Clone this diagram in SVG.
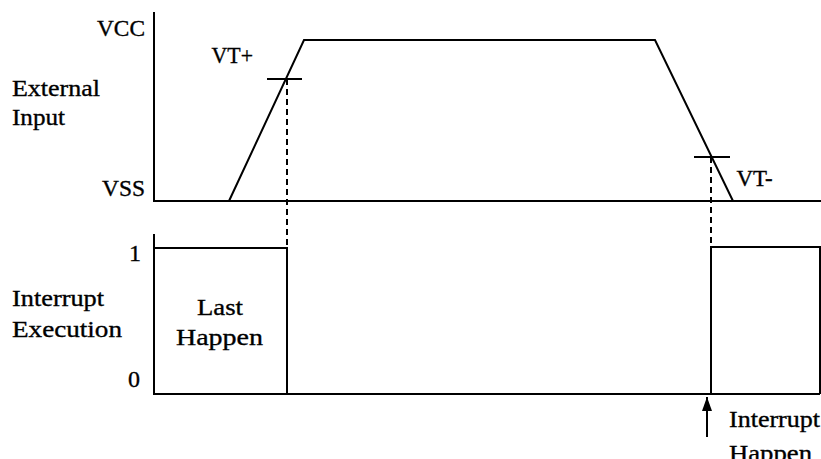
<svg xmlns="http://www.w3.org/2000/svg" width="821" height="459" viewBox="0 0 821 459">
<defs>
<style>
.ln{fill:none;stroke:#000;stroke-width:2;stroke-linecap:butt;stroke-linejoin:miter}
.ds{fill:none;stroke:#000;stroke-width:2;stroke-dasharray:6 4}
text{font-family:"Liberation Serif","DejaVu Serif",serif;font-size:24px;fill:#000;stroke:#000;stroke-width:0.35}
</style>
<marker id="ah" viewBox="0 0 14 10" refX="14" refY="5" markerWidth="14" markerHeight="10" markerUnits="userSpaceOnUse" orient="auto">
<path d="M0,0 L14,5 L0,10 Z" fill="#000"/>
</marker>
</defs>
<rect width="821" height="459" fill="#fff"/>
<g id="external-input">
<path class="ln" d="M154,12 V201 H821"/>
<path class="ln" d="M229,201 L304,40 H655 L733,201"/>
<path class="ln" d="M267,79 H302"/>
<path class="ln" d="M694,157 H730"/>
<text x="97" y="36" textLength="48" lengthAdjust="spacingAndGlyphs">VCC</text>
<text x="211.5" y="63" textLength="41.5" lengthAdjust="spacingAndGlyphs">VT+</text>
<text x="12" y="96" textLength="88" lengthAdjust="spacingAndGlyphs">External</text>
<text x="12" y="125" textLength="53" lengthAdjust="spacingAndGlyphs">Input</text>
<text x="102" y="196" textLength="43" lengthAdjust="spacingAndGlyphs">VSS</text>
<text x="736.5" y="185.5" textLength="36" lengthAdjust="spacingAndGlyphs">VT-</text>
</g>
<g id="interrupt-execution">
<path class="ln" d="M154,234 V394 H820"/>
<path class="ln" d="M154,248 H287 V394"/>
<path class="ln" d="M711,394 V247 H820 V394"/>
<text x="129" y="261">1</text>
<text x="128" y="387">0</text>
<text x="12" y="306" textLength="92" lengthAdjust="spacingAndGlyphs">Interrupt</text>
<text x="12" y="336.5" textLength="110" lengthAdjust="spacingAndGlyphs">Execution</text>
<text x="197" y="315" textLength="46" lengthAdjust="spacingAndGlyphs">Last</text>
<text x="176" y="345" textLength="87" lengthAdjust="spacingAndGlyphs">Happen</text>
</g>
<g id="connectors">
<path class="ds" d="M287,79 V248"/>
<path class="ds" d="M711,157 V247"/>
<path class="ln" d="M707,437 V397" marker-end="url(#ah)"/>
</g>
<g id="interrupt-happen">
<text x="729" y="427" textLength="91" lengthAdjust="spacingAndGlyphs">Interrupt</text>
<text x="729" y="461" textLength="83" lengthAdjust="spacingAndGlyphs">Happen</text>
</g>
</svg>
